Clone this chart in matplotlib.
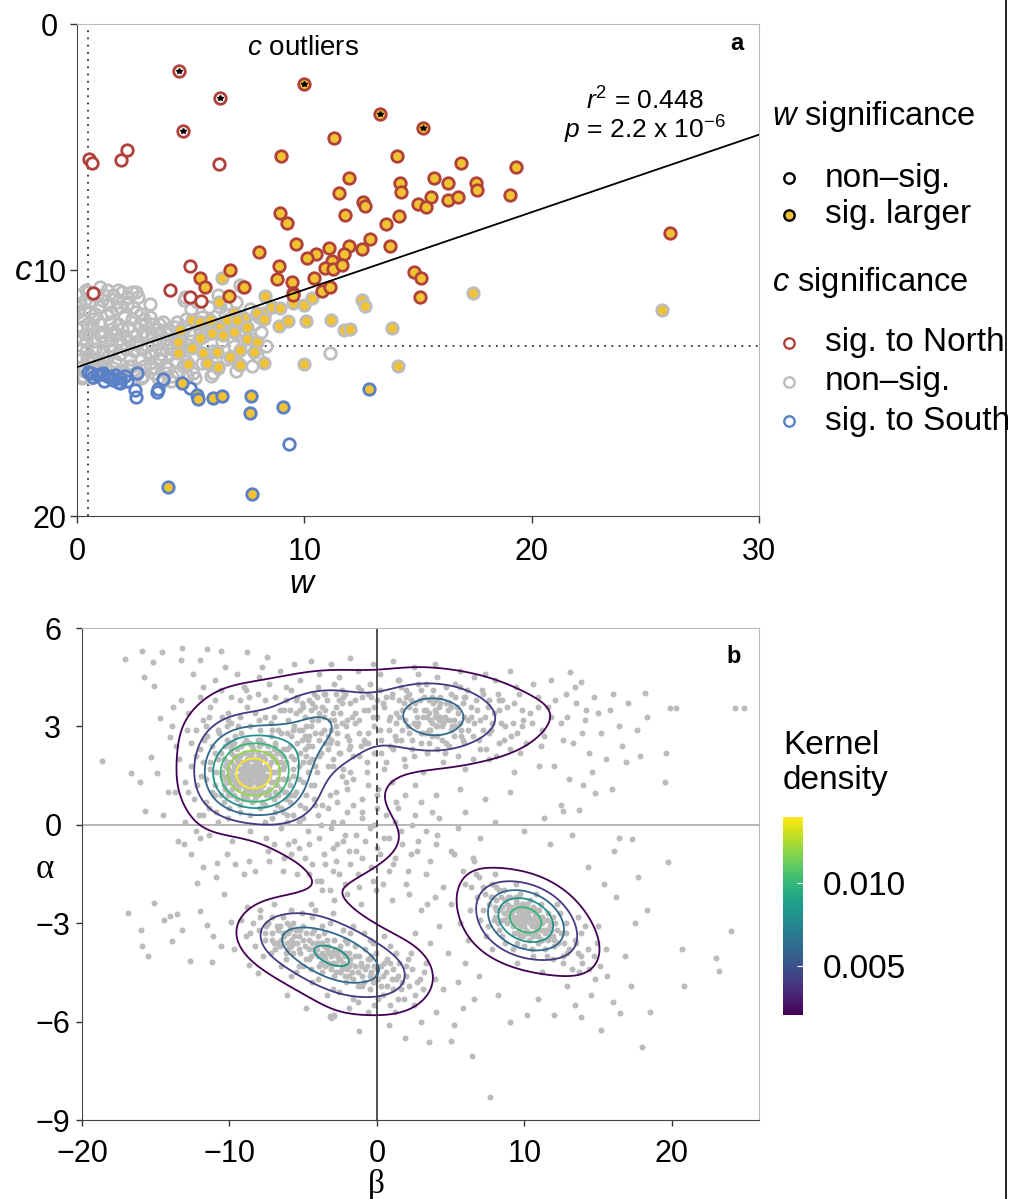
import numpy as np
import matplotlib.pyplot as plt
from matplotlib.lines import Line2D
from matplotlib.colors import Normalize
import matplotlib.cm as cm

plt.rcParams['font.family'] = ['Liberation Sans', 'DejaVu Sans']
plt.rcParams['mathtext.fontset'] = 'custom'
plt.rcParams['mathtext.rm'] = 'Liberation Sans'
plt.rcParams['mathtext.it'] = 'Liberation Sans:italic'

# ---------------- panel a data (w, c) ----------------
a_gray = [(0.1, 11.0), (0.3, 11.6), (0.2, 12.3), (0.4, 12.9), (0.1, 13.5), (0.3, 14.1), (0.6, 11.3),
          (0.7, 12.0), (0.5, 12.6), (0.8, 13.2), (0.6, 13.8), (0.9, 11.0), (0.2, 14.4), (0.9, 14.0),
          (1.1, 11.2), (1.3, 11.8), (1.2, 12.5), (1.4, 13.1), (1.1, 13.7), (1.6, 11.0), (1.7, 11.6),
          (1.8, 12.2), (1.5, 12.8), (1.9, 13.4), (1.6, 14.0), (1.3, 10.8), (2.0, 10.9), (2.2, 11.4),
          (2.4, 12.0), (2.1, 12.7), (2.5, 13.3), (2.3, 13.9), (2.7, 11.1), (2.8, 11.8), (2.9, 12.5),
          (2.6, 13.0), (2.8, 13.6), (2.4, 10.9), (3.0, 12.2), (3.2, 11.9), (3.5, 12.4), (3.3, 13.0),
          (3.6, 13.6), (3.4, 14.2), (3.8, 12.1), (3.9, 12.8), (4.1, 13.4), (4.0, 14.0), (4.3, 12.3),
          (4.4, 13.0), (4.7, 11.2), (5.0, 11.6), (5.3, 12.2), (5.8, 11.5), (6.2, 11.0), (6.5, 11.8),
          (7.0, 11.3), (7.3, 10.7), (7.6, 11.6), (4.6, 12.6), (5.2, 13.1), (5.6, 12.7), (6.0, 13.3),
          (6.4, 12.9), (6.9, 13.1), (7.4, 12.5), (7.8, 12.2), (8.1, 12.5), (4.8, 13.7), (5.5, 13.8),
          (6.2, 14.0), (7.1, 13.8), (7.9, 13.5), (4.2, 14.3), (3.8, 14.5), (4.76, 11.08), (7.18, 10.6),
          (11.15, 13.39), (0.5, 10.9), (1.0, 12.2), (2.0, 13.0), (2.9, 14.3), (3.6, 12.9), (1.4, 14.3),
          (0.15, 11.4), (0.25, 12.0), (0.35, 12.6), (0.15, 13.2), (0.45, 13.6), (0.25, 14.3), (0.55, 11.7),
          (0.65, 12.3), (0.75, 12.9), (0.55, 13.5), (0.85, 14.2), (0.95, 11.5), (1.05, 12.7), (1.15, 13.3),
          (1.25, 14.0), (1.35, 11.4), (1.45, 12.1), (1.55, 12.4), (1.65, 13.7), (1.75, 11.3), (1.85, 12.8),
          (1.95, 14.1), (2.05, 11.9), (2.15, 13.2), (2.25, 12.3), (2.35, 13.6), (2.45, 11.5), (2.55, 12.7),
          (2.65, 14.1), (2.75, 12.2), (2.85, 13.2), (2.95, 13.9), (3.05, 12.7), (3.15, 13.4), (3.25, 14.0),
          (3.35, 12.2), (3.45, 13.3), (3.55, 14.4), (3.65, 12.6), (3.75, 13.2), (3.85, 13.9), (3.95, 12.4),
          (4.05, 13.1), (4.15, 14.5), (4.25, 12.8), (4.35, 13.7), (4.45, 14.2), (4.55, 13.3), (4.65, 13.9),
          (4.75, 12.3), (4.85, 14.3), (4.95, 12.6), (5.1, 14.2), (5.3, 11.3), (5.5, 11.9), (5.7, 13.4),
          (5.9, 14.3), (6.1, 12.2), (6.3, 11.5), (6.6, 13.6), (6.8, 12.3), (7.0, 14.1), (7.2, 11.9),
          (7.5, 13.1), (7.7, 13.9), (8.0, 11.9), (8.3, 13.1), (1.0, 10.7), (1.8, 10.8), (2.6, 10.9),
          (3.2, 11.4), (0.4, 10.8), (0.05, 11.7), (0.2, 12.8), (0.1, 14.0), (0.35, 11.2), (0.45, 12.2),
          (0.4, 13.3), (0.6, 14.4), (0.7, 11.0), (0.8, 11.8), (0.75, 13.6), (0.95, 12.5), (1.0, 13.9),
          (1.2, 11.0), (1.25, 12.9), (1.35, 13.5), (1.5, 11.7), (1.55, 13.3), (1.7, 12.6), (1.8, 14.2),
          (1.9, 11.5), (2.0, 12.4), (2.1, 14.2), (2.25, 11.1), (2.3, 12.9), (2.4, 13.9), (2.6, 11.7),
          (2.7, 12.9), (2.8, 14.4), (2.95, 12.0), (3.1, 13.1), (3.2, 13.8), (3.3, 12.6), (3.45, 14.0),
          (3.6, 12.2), (3.7, 13.4), (3.9, 14.2), (4.0, 12.6), (4.2, 13.2), (4.4, 12.1), (4.6, 13.1),
          (4.8, 12.0), (5.0, 12.9), (5.2, 14.4), (5.4, 12.5), (5.8, 12.1), (6.0, 14.2), (6.5, 12.5),
          (7.2, 12.6), (7.7, 12.8)]

a_gray_larger = [(6.40, 10.34), (6.26, 11.29), (8.28, 11.06), (8.28, 11.73), (8.58, 11.49), (8.94, 11.56),
                 (9.50, 11.36), (10.0, 11.42), (10.34, 11.15), (12.54, 11.22), (12.65, 11.46), (6.89, 11.76),
                 (7.33, 11.96), (7.92, 11.76), (8.21, 12.0), (8.87, 12.28), (9.26, 12.07), (10.09, 12.07),
                 (11.19, 12.03), (11.73, 12.44), (13.86, 12.34), (14.13, 13.9), (10.0, 13.82), (4.54, 12.44),
                 (5.05, 12.03), (5.39, 12.10), (5.86, 12.03), (6.30, 12.30), (6.59, 12.03), (7.04, 12.03),
                 (7.48, 12.30), (5.42, 12.78), (5.93, 12.57), (6.42, 12.64), (6.89, 12.51), (7.48, 12.82),
                 (7.92, 12.91), (5.05, 13.18), (4.43, 12.91), (4.46, 13.39), (5.56, 13.39), (6.15, 13.32),
                 (6.74, 13.52), (7.18, 13.25), (7.77, 13.35), (4.90, 13.82), (5.71, 13.79), (6.22, 13.96),
                 (7.18, 13.86), (8.21, 13.79), (17.41, 10.92), (25.73, 11.63), (12.0, 12.4)]

a_south = [(2.63, 14.2), (3.80, 14.44), (3.58, 14.85), (3.51, 14.95), (2.56, 14.88), (2.60, 15.15),
           (4.98, 14.81), (9.31, 17.09), (0.50, 14.13), (0.87, 14.27), (1.16, 14.2), (1.45, 14.34),
           (1.67, 14.27), (1.89, 14.40), (2.11, 14.31), (1.82, 14.54), (1.60, 14.47), (1.31, 14.31),
           (1.01, 14.23), (0.72, 14.34), (1.2, 14.5), (1.9, 14.6), (2.2, 14.5), (0.6, 14.2)]

a_south_larger = [(4.61, 14.58), (5.27, 15.08), (5.32, 15.26), (6.0, 15.22), (6.37, 15.11), (7.65, 15.11),
                  (7.62, 15.83), (9.06, 15.56), (12.85, 14.85), (4.02, 18.83), (7.69, 19.12)]

a_north = [(0.54, 5.5), (0.65, 5.64), (1.92, 5.53), (2.19, 5.12), (6.26, 5.70), (4.98, 9.82),
           (4.07, 10.81), (0.72, 10.92), (4.98, 11.08), (5.46, 11.26), (4.49, 1.90), (6.27, 3.02),
           (4.66, 4.35)]

a_north_larger = [(11.29, 4.65), (8.99, 5.37), (14.08, 5.37), (11.95, 6.27), (11.51, 6.86), (14.2, 6.45),
                  (14.25, 6.82), (12.58, 7.22), (12.69, 7.40), (11.81, 7.76), (14.15, 7.80), (8.91, 7.70),
                  (9.24, 8.08), (13.61, 8.14), (9.63, 8.94), (7.99, 9.26), (11.07, 9.09), (10.52, 9.36),
                  (10.12, 9.52), (11.95, 9.02), (11.73, 9.36), (12.54, 9.16), (12.88, 8.75), (13.76, 9.02),
                  (11.22, 9.63), (10.93, 9.91), (11.26, 9.97), (11.66, 9.80), (8.87, 9.82), (6.71, 10.0),
                  (5.42, 10.31), (5.64, 10.70), (7.33, 10.68), (8.80, 10.38), (9.46, 10.50), (10.41, 10.31),
                  (10.78, 10.84), (11.15, 10.68), (9.48, 10.95), (6.67, 11.06), (9.5, 11.0), (16.87, 5.64),
                  (19.33, 5.80), (15.70, 6.25), (16.33, 6.45), (17.53, 6.45), (17.58, 6.75), (15.55, 7.02),
                  (15.0, 7.32), (15.37, 7.43), (16.33, 7.15), (16.75, 7.05), (19.03, 6.95), (26.08, 8.48),
                  (14.82, 10.07), (15.14, 10.31), (15.08, 11.1), (9.97, 2.45), (13.35, 3.66), (15.23, 4.21)]

a_outliers = [(4.49, 1.90), (6.27, 3.02), (4.66, 4.35), (9.97, 2.45), (13.35, 3.66), (15.23, 4.21)]

fit_intercept = 13.95
fit_slope = -0.315
w_cut = 0.5
c_cut = 13.1

# ---------------- panel b data (beta, alpha) ----------------
b_left_core = [
    (-10.8, 2.9), (-9.9, 3.1), (-9.2, 2.8), (-8.6, 3.0), (-7.9, 2.9), (-7.2, 3.1), (-6.5, 2.8), (-11.5, 2.7),
    (-10.2, 2.6), (-8.1, 2.6), (-6.9, 2.5), (-5.8, 2.7), (-12.0, 2.3), (-11.2, 2.4), (-10.6, 2.2), (-10.0, 2.5),
    (-9.5, 2.3), (-9.0, 2.5), (-8.5, 2.2), (-8.0, 2.4), (-7.5, 2.2), (-7.0, 2.3), (-6.4, 2.1), (-5.9, 2.4),
    (-5.2, 2.2), (-9.7, 2.1), (-8.8, 2.0), (-7.8, 2.0), (-12.6, 1.8), (-11.8, 1.9), (-11.3, 1.7), (-10.8, 2.0),
    (-10.3, 1.8), (-9.9, 1.6), (-9.4, 1.9), (-9.1, 1.7), (-8.7, 1.8), (-8.3, 1.6), (-8.0, 1.9), (-7.6, 1.7),
    (-7.2, 1.9), (-6.8, 1.6), (-6.3, 1.8), (-5.7, 1.7), (-5.0, 1.9), (-10.1, 1.7), (-8.9, 1.6), (-7.9, 1.6),
    (-13.0, 1.3), (-12.2, 1.2), (-11.6, 1.4), (-11.0, 1.2), (-10.5, 1.5), (-10.0, 1.3), (-9.6, 1.4), (-9.2, 1.2),
    (-8.8, 1.5), (-8.5, 1.3), (-8.1, 1.4), (-7.7, 1.2), (-7.3, 1.5), (-6.9, 1.3), (-6.4, 1.4), (-5.9, 1.2),
    (-5.3, 1.4), (-9.4, 1.5), (-8.6, 1.1), (-7.9, 1.1), (-10.3, 1.1), (-8.3, 1.5), (-12.4, 0.8), (-11.6, 0.7),
    (-11.0, 0.9), (-10.4, 0.7), (-9.8, 0.9), (-9.3, 0.6), (-8.8, 0.8), (-8.3, 0.9), (-7.8, 0.7), (-7.3, 0.9),
    (-6.8, 0.6), (-6.2, 0.8), (-5.6, 0.9), (-9.0, 1.0), (-7.5, 1.0), (-11.8, 0.3), (-10.9, 0.4), (-10.1, 0.2),
    (-9.3, 0.4), (-8.6, 0.3), (-7.9, 0.5), (-7.1, 0.2), (-6.4, 0.4), (-5.7, 0.3), (-4.9, 0.5), (-9.1, 1.4),
    (-8.7, 1.6), (-8.2, 1.7), (-8.9, 1.3), (-8.4, 1.8), (-7.8, 1.5), (-9.3, 1.7), (-8.0, 1.2), (-8.6, 1.4),
    (-9.0, 1.9), (-7.6, 1.4), (-8.3, 1.1), (-9.5, 1.2), (-8.8, 1.7), (-8.1, 1.5), (-7.4, 1.7), (-9.8, 1.5),
    (-8.5, 2.0), (-8.7, 1.2), (-7.9, 1.8),
    (-12.3, 2.1), (-11.9, 1.5), (-11.7, 2.6), (-11.4, 0.5), (-11.2, 1.0), (-11.0, 2.2), (-10.9, 1.6),
    (-10.7, 2.8), (-10.6, 0.9), (-10.4, 2.0), (-10.3, 1.4), (-10.2, 3.0), (-10.0, 0.5), (-9.9, 2.3),
    (-9.8, 1.1), (-9.7, 1.8), (-9.6, 2.7), (-9.5, 0.8), (-9.4, 2.1), (-9.3, 1.3), (-9.2, 2.4), (-9.1, 0.9),
    (-9.0, 1.6), (-8.9, 2.2), (-8.8, 1.0), (-8.7, 2.5), (-8.6, 1.7), (-8.5, 0.7), (-8.4, 2.3), (-8.3, 1.3),
    (-8.2, 2.0), (-8.1, 0.9), (-8.0, 1.6), (-7.9, 2.6), (-7.8, 1.3), (-7.7, 2.1), (-7.6, 0.6), (-7.5, 1.8),
    (-7.4, 2.4), (-7.3, 1.1), (-7.2, 2.7), (-7.1, 1.6), (-7.0, 0.8), (-6.9, 2.0), (-6.8, 1.2), (-6.7, 2.9),
    (-6.6, 1.7), (-6.5, 0.5), (-6.4, 2.3), (-6.3, 1.0), (-6.2, 1.9), (-6.1, 2.8), (-6.0, 1.4), (-5.9, 0.7),
    (-5.8, 2.1), (-5.7, 1.5), (-5.6, 3.0), (-5.5, 1.0), (-5.4, 2.5), (-5.3, 1.8), (-5.2, 0.6), (-5.1, 2.9),
    (-5.0, 1.3), (-4.9, 2.3), (-4.8, 0.9), (-4.7, 1.6), (-4.6, 2.7), (-4.5, 1.2), (-12.8, 1.0), (-12.6, 2.5),
    (-12.1, 0.3), (-11.6, 3.0), (-11.3, 1.9), (-10.8, 0.1), (-10.1, 3.2), (-9.3, 3.3), (-8.0, 3.2),
    (-7.0, 3.3), (-6.1, 0.1), (-5.3, 0.1), (-4.4, 2.0), (-4.2, 0.6), (-13.4, 2.0), (-13.7, 1.0), (-12.9, 2.9),
    (-10.4, 1.2), (-10.2, 1.9), (-10.0, 1.0), (-9.9, 2.2), (-9.8, 1.4), (-9.7, 0.9), (-9.6, 1.7), (-9.5, 2.0),
    (-9.4, 1.1), (-9.3, 1.5), (-9.2, 1.9), (-9.1, 1.2), (-9.0, 2.2), (-8.9, 1.5), (-8.8, 0.9), (-8.8, 1.9),
    (-8.7, 1.4), (-8.6, 2.1), (-8.5, 1.0), (-8.5, 1.6), (-8.4, 1.3), (-8.3, 2.0), (-8.2, 1.5), (-8.2, 0.9),
    (-8.1, 1.8), (-8.0, 1.4), (-7.9, 2.1), (-7.9, 1.0), (-7.8, 1.7), (-7.7, 1.3), (-7.6, 2.0), (-7.5, 1.5),
    (-7.4, 1.0), (-7.3, 1.8), (-7.2, 1.3), (-7.1, 2.1), (-7.0, 1.6), (-6.9, 1.0), (-6.8, 1.9), (-6.7, 1.4),
    (-6.6, 2.2), (-6.5, 1.1), (-9.6, 1.25), (-9.0, 1.75), (-8.6, 1.25), (-8.4, 1.65), (-8.0, 1.1),
    (-7.7, 1.55), (-9.2, 1.55), (-8.9, 1.1), (-8.3, 1.85), (-7.9, 1.35), (-8.7, 1.75), (-9.4, 1.35),
    (-8.1, 1.25), (-7.5, 1.75), (-8.6, 1.5), (-8.9, 1.85), (-7.8, 1.0), (-9.8, 1.65),
    (-10.5, 1.6), (-10.3, 2.4), (-10.1, 0.9), (-9.9, 1.9), (-9.7, 2.5), (-9.5, 1.4), (-9.3, 2.1), (-9.1, 0.8),
    (-8.9, 2.6), (-8.7, 1.0), (-8.5, 2.4), (-8.3, 0.8), (-8.1, 2.2), (-7.9, 1.4), (-7.7, 2.5), (-7.5, 0.9),
    (-7.3, 2.2), (-7.1, 1.3), (-6.9, 2.4), (-6.7, 0.9), (-6.5, 1.9), (-6.3, 1.4), (-6.1, 2.3), (-10.4, 2.0),
    (-10.0, 1.3), (-6.4, 1.7), (-6.8, 2.2), (-10.2, 1.5), (-6.2, 1.0), (-9.9, 2.4), (-11.8, 3.2), (-11.0, 3.8),
    (-10.5, 3.3), (-9.9, 3.9), (-9.4, 3.0), (-8.7, 3.9), (-8.3, 3.4), (-7.6, 3.8), (-7.1, 2.9), (-6.6, 3.5),
    (-6.0, 3.2), (-5.5, 3.8), (-12.3, 2.9), (-11.4, 3.3), (-8.9, 4.1)]

b_top = [
    (-11.0, 4.4), (-9.5, 4.6), (-8.0, 4.5), (-6.6, 4.7), (-5.2, 4.4), (-3.9, 4.6), (-2.6, 4.5), (-1.3, 4.7),
    (0.2, 4.6), (1.5, 4.4), (2.8, 4.6), (4.1, 4.5), (5.3, 4.3), (6.6, 4.5), (8.0, 4.4), (9.4, 4.2), (-7.3, 4.3),
    (-0.5, 4.3), (3.3, 4.3), (-12.0, 3.9), (-10.6, 4.1), (-9.3, 3.8), (-8.1, 4.0), (-6.9, 3.9), (-5.8, 4.1),
    (-4.6, 3.8), (-3.5, 4.0), (-2.3, 3.9), (-1.1, 4.1), (0.0, 3.8), (1.0, 4.0), (2.0, 3.9), (3.0, 4.1), (4.0, 3.8),
    (5.0, 4.0), (6.0, 3.9), (7.1, 4.1), (8.3, 3.8), (9.6, 4.0), (10.9, 3.9), (12.1, 3.8), (-4.0, 4.2), (1.6, 4.2),
    (5.6, 4.2), (-12.8, 3.4), (-11.3, 3.6), (-10.1, 3.4), (-8.8, 3.6), (-7.6, 3.3), (-6.3, 3.5), (-5.1, 3.7),
    (-3.9, 3.4), (-2.8, 3.6), (-1.7, 3.3), (-0.6, 3.5), (0.4, 3.7), (1.3, 3.4), (2.2, 3.6), (3.1, 3.3), (3.9, 3.5),
    (4.7, 3.7), (5.5, 3.4), (6.4, 3.6), (7.3, 3.3), (8.3, 3.5), (9.3, 3.7), (10.4, 3.4), (11.6, 3.6), (12.9, 3.3),
    (14.2, 3.5), (2.6, 3.5), (4.3, 3.3), (5.9, 3.3), (1.8, 3.7), (-4.8, 3.0), (-3.6, 2.9), (-2.4, 3.1), (-1.2, 2.8),
    (-0.2, 3.0), (0.8, 3.2), (1.7, 2.9), (2.5, 3.1), (3.3, 2.8), (4.1, 3.0), (4.9, 3.2), (5.7, 2.9), (6.6, 3.1),
    (7.6, 2.8), (8.7, 3.0), (9.9, 3.2), (11.2, 2.9), (12.5, 3.1), (13.9, 2.8), (3.6, 3.2), (2.1, 3.0), (5.3, 3.0),
    (-2.0, 3.2), (-4.4, 2.4), (-3.1, 2.6), (-1.9, 2.3), (-0.8, 2.5), (0.3, 2.2), (1.3, 2.6), (2.4, 2.3), (3.5, 2.5),
    (4.6, 2.2), (5.8, 2.6), (7.0, 2.3), (8.3, 2.5), (9.7, 2.2), (11.1, 2.4), (12.6, 2.6), (-2.5, 2.2), (0.9, 2.4),
    (-4.2, 1.8), (-3.0, 2.0), (-1.8, 1.6), (-0.7, 1.9), (0.5, 1.7), (1.8, 2.0), (3.1, 1.6), (4.5, 1.9), (6.0, 1.7),
    (7.6, 2.0), (9.3, 1.6), (11.0, 1.8), (-2.4, 1.5), (-1.2, 2.1), (-4.3, 1.2), (-3.2, 0.9), (-2.1, 1.3),
    (-1.0, 0.8), (0.1, 1.1), (1.3, 0.7), (2.6, 1.2), (4.0, 0.9), (5.6, 1.1), (7.3, 0.8), (9.0, 1.0), (-3.7, 0.6),
    (-1.6, 1.4), (-2.7, 0.7), (-4.0, 0.3), (-3.0, 0.1), (-2.0, 0.4), (-1.0, 0.2), (0.0, 0.5), (1.2, 0.1),
    (2.6, 0.3), (4.2, 0.2), (6.0, 0.4), (8.0, 0.1), (1.5, 3.3), (3.5, 3.8), (4.2, 3.6),
    (-4.7, 2.6), (-4.5, 3.5), (-4.3, 4.0), (-4.1, 1.6), (-3.8, 2.2), (-3.6, 3.3), (-3.4, 3.8), (-3.3, 1.8),
    (-3.1, 2.9), (-2.9, 4.3), (-2.7, 2.5), (-2.5, 3.4), (-2.3, 1.7), (-2.2, 4.0), (-2.0, 2.7), (-1.8, 3.7),
    (-1.6, 2.1), (-1.5, 3.1), (-1.3, 4.2), (-1.1, 2.4), (-0.9, 3.5), (-0.7, 1.6), (-0.6, 2.8), (-0.4, 3.9),
    (-0.2, 2.2), (0.0, 3.3), (0.2, 4.1), (0.3, 2.6), (0.5, 3.6), (0.6, 1.9), (0.8, 2.9), (1.0, 3.9), (1.1, 2.3),
    (1.3, 3.1), (1.4, 4.4), (1.6, 2.6), (1.7, 3.5), (1.9, 1.8), (2.0, 4.1), (2.2, 2.8), (2.3, 3.8), (2.5, 2.1),
    (2.7, 3.3), (2.8, 4.3), (3.0, 2.5), (3.2, 3.9), (3.4, 2.2), (3.5, 3.4), (3.7, 2.7), (3.8, 4.1), (4.0, 3.0),
    (4.1, 2.3), (4.3, 3.7), (4.4, 2.6), (4.6, 3.2), (4.7, 4.2), (4.9, 2.4), (5.0, 3.6), (5.2, 2.7), (5.3, 3.9),
    (5.5, 2.1), (5.6, 3.1), (5.8, 3.7), (5.9, 2.5), (6.1, 4.1), (6.2, 2.9), (6.4, 3.3), (6.5, 2.0), (6.7, 3.8),
    (6.9, 2.6), (7.0, 3.2), (7.2, 4.0), (7.4, 2.3), (7.5, 3.6), (7.7, 2.9), (7.9, 3.4), (8.1, 2.1), (8.2, 4.0),
    (8.4, 3.1), (8.6, 2.6), (8.8, 3.6), (9.0, 2.3), (9.2, 3.1), (9.5, 2.8), (9.8, 3.5), (10.1, 2.5), (10.5, 3.1),
    (10.9, 3.6), (11.3, 2.7), (11.8, 3.3), (2.6, 3.7),
    (-2.8, 3.0), (-2.4, 3.7), (-1.9, 2.6), (-1.5, 3.4), (-1.0, 3.9), (-0.6, 2.5), (-0.2, 3.6), (0.2, 2.9),
    (0.6, 3.9), (0.9, 3.3), (1.2, 2.7), (1.5, 3.8), (1.9, 3.2), (2.2, 4.0), (2.4, 2.6), (2.7, 3.0), (2.9, 3.8),
    (3.1, 2.8), (3.3, 3.5), (3.5, 2.9), (3.7, 3.9), (3.9, 3.3), (4.1, 2.7), (4.3, 3.9), (4.5, 3.1), (4.7, 2.5),
    (4.9, 3.7), (5.1, 3.0), (5.4, 3.6), (5.7, 2.7), (5.9, 3.9), (6.2, 3.2), (6.5, 2.7), (6.8, 3.5), (7.2, 2.9),
    (7.6, 3.8), (-5.9, 3.5), (-5.6, 2.0), (-5.4, 3.9), (-5.1, 2.6), (-4.9, 3.3), (-4.6, 1.9), (-4.4, 3.7),
    (-4.2, 2.8), (-3.9, 2.1), (-3.7, 3.6), (-3.5, 2.5), (-3.2, 3.2), (-3.0, 1.8), (-2.8, 4.0), (-2.6, 2.2),
    (-5.7, 2.9), (-5.2, 3.5), (-4.0, 3.2), (-3.3, 2.7), (-6.2, 3.8),
    (-4.8, 2.1), (-4.5, 3.0), (-4.2, 3.6), (-3.9, 2.6), (-3.6, 4.0), (-3.3, 2.3), (-3.0, 3.4), (-2.7, 2.8),
    (-2.4, 4.1), (-2.1, 3.0), (-1.8, 2.4), (-1.5, 3.8), (-1.2, 3.2), (-0.9, 2.6), (-0.6, 4.0), (-0.3, 3.3),
    (7.8, 3.1), (8.5, 3.8), (9.1, 2.7), (9.8, 3.0),
    (2.8, 3.1), (3.2, 3.5), (3.6, 2.9), (4.0, 3.4), (4.4, 3.0), (4.8, 3.5), (5.2, 3.2), (3.4, 3.3), (4.2, 3.2),
    (3.8, 3.7), (4.6, 3.3), (3.0, 2.8), (5.0, 2.9), (3.7, 3.1), (-5.3, 2.9), (-5.0, 3.6), (-4.7, 2.4),
    (-4.4, 3.2), (-4.1, 3.9), (-3.8, 2.8), (-3.5, 3.5), (-3.2, 2.5), (-2.9, 3.2), (-2.6, 3.8), (-5.5, 3.4),
    (-4.9, 2.7)]

b_middle = [
    (-11.4, -0.3), (-9.8, -0.5), (-8.6, -0.2), (-7.5, -0.4), (-6.5, -0.1), (-5.6, -0.5), (-4.7, -0.2),
    (-3.9, -0.4), (-3.1, -0.1), (-2.3, -0.5), (-1.4, -0.3), (-0.5, -0.1), (0.5, -0.4), (1.6, -0.2), (2.8, -0.5),
    (4.1, -0.3), (5.5, -0.1), (7.0, -0.4), (-6.0, -0.6), (-2.7, -0.6), (-10.2, -0.9), (-8.7, -1.1), (-7.4, -0.8),
    (-6.3, -1.0), (-5.3, -0.7), (-4.4, -1.2), (-3.6, -0.9), (-2.8, -1.1), (-1.9, -0.8), (-1.0, -1.0), (0.0, -0.7),
    (1.1, -1.2), (2.3, -0.9), (3.6, -1.1), (5.0, -0.8), (6.5, -1.0), (-4.9, -1.0), (-9.0, -1.5),
    (-6.4, -1.4), (-4.6, -1.5), (-3.8, -1.7), (-3.0, -1.4), (-2.2, -1.8), (-1.3, -1.5), (-0.3, -1.7),
    (0.8, -1.4), (2.0, -1.8), (3.3, -1.5), (4.5, -1.9),
    (-4.5, -2.4), (-3.7, -2.0), (-2.9, -2.3), (-2.0, -2.1), (-1.1, -2.4), (-0.1, -2.0), (1.0, -2.3),
    (2.2, -2.1), (3.4, -2.4), (-13.5, -0.5), (-12.6, -0.9), (-11.8, -1.3), (-10.9, -1.6), (-13.0, 0.1),
    (-12.3, -0.2), (3.0, -2.6), (4.2, -3.1), (5.0, -2.4), (3.6, -3.6), (4.8, -3.9), (5.6, -3.0), (2.6, -3.3),
    (3.9, -2.2),
    (-7.6, 0.1), (-7.0, -0.6), (-6.1, 0.3), (-5.8, -0.9), (-5.4, -1.5), (-5.0, 0.2), (-4.6, -0.6),
    (-4.3, 0.8), (-4.1, -1.7), (-3.8, 0.0), (-3.5, -1.2), (-3.3, 0.5), (-3.0, -0.7), (-2.8, 1.0), (-2.6, -1.5),
    (-2.4, 0.1), (-2.2, -0.3), (-2.0, 1.1), (-1.8, -1.2), (-1.6, 0.6), (-1.4, -0.8), (-1.2, -1.9), (-1.0, 0.4),
    (-0.8, -0.5), (-0.6, 1.2), (-0.4, -1.3), (-0.2, 0.0), (0.0, 0.9), (0.2, -0.9), (0.4, -1.8), (0.6, 0.3),
    (0.8, -0.4), (1.0, 1.3), (1.2, -1.0), (1.4, 0.5), (1.7, -0.6), (1.9, 0.9), (2.1, -1.4), (2.4, 0.0),
    (2.7, -0.8), (3.0, 0.7), (3.3, -0.2), (3.7, 0.4), (4.0, -0.6), (-3.2, -2.0), (-5.9, 0.9),
    (-6.9, 0.4), (-7.3, -1.1)]

b_lower_left = [
    (-7.0, -2.4), (-5.8, -2.6), (-4.4, -2.8), (-3.2, -3.0), (-1.8, -3.3), (-0.5, -3.5), (0.9, -3.7), (2.3, -3.9),
    (-8.8, -2.5), (-7.9, -2.6), (-7.1, -2.8), (-6.4, -2.8), (-5.7, -3.0), (-5.0, -3.1), (-4.3, -3.2), (-3.6, -3.3),
    (-2.9, -3.5), (-2.2, -3.5), (-1.5, -3.7), (-0.8, -3.8), (-0.1, -3.9), (0.7, -4.1), (1.5, -4.2), (2.4, -4.4),
    (3.2, -4.5), (-8.4, -3.0), (-7.5, -3.1), (-6.7, -3.2), (-6.0, -3.3), (-5.3, -3.4), (-4.6, -3.5), (-3.9, -3.6),
    (-3.3, -3.7), (-2.6, -3.8), (-1.9, -3.9), (-1.2, -4.0), (-0.5, -4.1), (0.3, -4.3), (1.1, -4.4), (2.0, -4.6),
    (2.9, -4.7), (-8.0, -3.2), (-7.1, -3.3), (-6.3, -3.4), (-5.6, -3.6), (-4.9, -3.7), (-4.3, -3.8), (-3.7, -3.9),
    (-3.1, -4.0), (-2.5, -4.1), (-1.8, -4.2), (-1.1, -4.3), (-0.4, -4.5), (0.4, -4.6), (1.3, -4.7), (2.2, -4.9),
    (3.1, -5.0), (-3.4, -3.8), (-2.8, -4.2), (-4.0, -4.0), (-2.2, -4.0), (-7.6, -3.5), (-6.8, -3.6), (-6.0, -3.8),
    (-5.2, -3.9), (-4.5, -4.0), (-3.8, -4.2), (-3.1, -4.3), (-2.4, -4.4), (-1.7, -4.5), (-1.0, -4.6), (-0.2, -4.8),
    (0.7, -4.9), (1.6, -5.0), (2.6, -5.2), (-3.5, -4.1), (-2.0, -4.3), (-7.2, -3.9), (-6.2, -4.1), (-5.3, -4.3),
    (-4.5, -4.4), (-3.7, -4.5), (-2.9, -4.6), (-2.1, -4.8), (-1.3, -4.9), (-0.5, -5.0), (0.4, -5.2), (1.4, -5.3),
    (2.5, -5.5), (-5.8, -4.6), (-4.4, -4.8), (-3.0, -5.0), (-1.6, -5.3), (-0.2, -5.5), (1.2, -5.7), (-3.1, -5.9),
    (-2.9, -5.8), (0.8, -6.1), (-1.2, -6.3), (-3.6, -3.7), (-3.0, -3.9), (-2.3, -4.2), (-4.1, -3.6), (-1.5, -4.3),
    (-2.7, -3.9), (-3.3, -4.2), (-1.9, -4.6), (-4.6, -3.8), (-0.8, -4.4), (-3.9, -4.3), (-2.5, -4.5),
    (-9.2, -2.9), (-8.9, -3.4), (-8.6, -3.3), (-8.3, -3.7), (-7.9, -2.8), (-7.7, -4.0), (-7.4, -3.0),
    (-7.0, -3.6), (-6.6, -3.1), (-6.5, -4.3), (-6.1, -3.0), (-5.9, -3.2), (-5.5, -4.5), (-5.1, -2.7),
    (-4.8, -4.1), (-4.2, -2.6), (-4.0, -4.7), (-3.7, -3.1), (-3.4, -5.2), (-3.0, -2.7), (-2.6, -5.1),
    (-2.3, -3.2), (-1.9, -5.6), (-1.6, -3.1), (-1.3, -5.4), (-0.9, -3.3), (-0.6, -5.7), (-0.3, -3.6),
    (0.1, -5.3), (0.5, -3.4), (0.9, -5.5), (1.3, -3.9), (1.8, -5.3), (2.1, -4.1), (2.7, -4.8), (3.3, -4.2),
    (-2.0, -3.6), (-4.4, -3.3), (-1.0, -4.9), (-5.0, -4.3),
    (-5.8, -3.5), (-5.5, -3.2), (-5.3, -3.8), (-5.0, -3.5), (-4.8, -3.3), (-4.6, -4.1), (-4.4, -3.6),
    (-4.2, -3.9), (-4.0, -3.4), (-3.8, -4.0), (-3.7, -3.6), (-3.5, -4.3), (-3.4, -3.5), (-3.2, -3.9),
    (-3.1, -4.4), (-2.9, -3.8), (-2.8, -4.5), (-2.7, -4.0), (-2.5, -3.7), (-2.4, -4.3), (-2.2, -4.6),
    (-2.1, -3.9), (-2.0, -4.4), (-1.8, -4.1), (-1.6, -4.7), (-1.5, -4.0), (-1.3, -4.5), (-1.1, -4.2),
    (-0.9, -4.8), (-0.7, -4.3), (-0.5, -4.6), (-0.2, -4.3), (0.1, -4.7), (-3.6, -4.0), (-3.0, -4.2),
    (-2.6, -4.1), (-4.1, -3.8), (-1.9, -4.3), (-3.3, -3.9), (-2.3, -3.9),
    (-7.4, -3.0), (-7.1, -3.5), (-6.8, -3.1), (-6.6, -3.7), (-6.4, -3.3), (-6.1, -3.6), (-5.9, -3.1),
    (-5.7, -3.9), (-5.4, -3.6), (-5.2, -3.2), (-6.9, -3.8), (-7.6, -3.3), (-6.2, -3.9), (-5.6, -3.4),
    (-0.6, -4.1), (-0.3, -4.8), (0.0, -4.4), (0.3, -4.9), (0.6, -4.5), (0.9, -4.2), (1.1, -5.0), (1.4, -4.6),
    (1.7, -4.8), (2.0, -4.3), (-0.1, -4.6), (0.5, -4.2), (-0.4, -4.0), (1.0, -4.7), (-6.5, -3.5), (-5.8, -3.7)]

b_right = [
    (5.2, -0.9), (6.6, -1.1), (8.0, -1.5), (9.4, -1.8), (10.8, -2.1), (12.2, -2.4), (13.6, -2.8), (15.0, -3.1),
    (5.8, -1.4), (6.9, -1.6), (7.8, -1.8), (8.6, -2.0), (9.4, -2.2), (10.2, -2.4), (11.0, -2.6), (11.9, -2.8),
    (12.8, -3.0), (13.8, -3.3), (14.9, -3.6), (6.4, -1.9), (7.3, -2.1), (8.1, -2.3), (8.8, -2.4), (9.5, -2.6),
    (10.2, -2.7), (10.9, -2.9), (11.7, -3.1), (12.5, -3.3), (13.4, -3.5), (14.3, -3.8), (6.8, -2.2), (7.6, -2.4),
    (8.3, -2.6), (9.0, -2.7), (9.7, -2.9), (10.4, -3.0), (11.1, -3.2), (11.9, -3.4), (12.7, -3.6), (13.6, -3.9),
    (9.9, -2.7), (10.6, -2.9), (9.3, -2.8), (7.2, -2.6), (8.0, -2.8), (8.8, -3.0), (9.6, -3.2), (10.4, -3.3),
    (11.2, -3.5), (12.0, -3.7), (12.9, -3.9), (13.9, -4.2), (10.0, -3.1), (7.5, -3.1), (8.5, -3.4), (9.5, -3.6),
    (10.5, -3.8), (11.5, -4.0), (12.6, -4.2), (13.7, -4.5), (14.8, -4.7), (7.8, -3.8), (9.5, -4.2), (11.2, -4.5),
    (12.9, -4.9), (14.5, -5.2), (16.0, -5.4), (6.2, -3.5), (9.8, -2.5), (10.3, -2.8), (9.4, -3.0), (10.8, -3.1),
    (8.9, -2.6), (11.3, -2.9), (10.1, -3.2), (9.6, -2.6), (9.9, -2.9), (10.5, -2.6), (9.1, -2.5), (10.7, -3.3),
    (9.2, -3.1), (11.0, -2.8), (8.6, -2.7), (10.0, -2.4), (11.5, -3.2), (8.4, -2.2), (10.3, -3.5), (9.7, -3.4),
    (11.8, -3.0), (8.2, -3.0), (10.9, -3.6),
    (6.0, -1.8), (6.3, -2.6), (6.7, -1.5), (7.0, -2.9), (7.2, -1.9), (7.4, -3.4), (7.7, -2.2), (7.9, -2.9),
    (8.1, -1.9), (8.3, -3.2), (8.5, -2.5), (8.7, -3.6), (8.9, -2.2), (9.1, -2.9), (9.2, -3.8), (9.4, -2.4),
    (9.5, -3.3), (9.7, -2.1), (9.8, -3.0), (10.0, -3.7), (10.1, -2.6), (10.2, -3.3), (10.4, -2.3), (10.5, -3.1),
    (10.6, -4.0), (10.8, -2.6), (10.9, -3.4), (11.1, -2.4), (11.2, -3.0), (11.4, -3.8), (11.6, -2.7),
    (11.7, -3.4), (11.9, -4.1), (12.1, -3.0), (12.3, -3.6), (12.4, -2.7), (12.6, -4.0), (12.8, -3.3),
    (13.0, -3.8), (13.2, -4.4), (13.5, -3.6), (13.8, -4.0), (14.1, -3.1), (14.4, -4.4), (14.7, -4.0),
    (15.1, -4.3), (15.5, -3.8), (8.0, -2.5), (9.0, -2.5), (9.6, -2.8), (10.3, -2.9), (10.7, -2.8), (9.3, -3.3),
    (10.9, -3.0), (8.6, -2.9), (11.4, -3.3), (9.9, -3.4), (10.6, -2.5), (9.5, -2.4), (10.0, -2.95),
    (7.8, -2.2), (8.1, -2.6), (8.3, -2.0), (8.5, -2.9), (8.7, -2.3), (8.9, -2.8), (9.0, -2.2), (9.2, -2.6),
    (9.3, -3.0), (9.4, -2.3), (9.6, -2.7), (9.7, -3.1), (9.8, -2.4), (9.9, -2.8), (10.0, -3.3), (10.1, -2.5),
    (10.2, -2.9), (10.3, -3.3), (10.4, -2.6), (10.5, -3.0), (10.6, -3.4), (10.7, -2.7), (10.8, -3.2),
    (10.9, -2.6), (11.0, -3.0), (11.1, -3.5), (11.2, -2.8), (11.3, -3.2), (11.5, -2.9), (11.6, -3.5),
    (11.8, -3.2), (12.0, -3.5), (12.2, -3.2), (9.5, -2.9), (10.0, -2.7), (10.4, -2.9), (9.1, -2.7),
    (10.7, -3.1), (9.8, -3.0), (10.2, -2.7)]

b_sparse = [
    (-18.67, 1.95), (-17.1, 5.06), (-15.75, 0.41), (-15.9, 5.3), (-15.2, 4.97), (-14.55, 5.26), (-15.8, 4.52),
    (-15.1, 4.23), (-13.2, 5.4), (-13.3, 5.03), (-11.97, 5.03), (-11.5, 5.36), (-10.6, 5.3), (-8.8, 5.28),
    (-7.45, 5.13), (-13.8, 3.6), (-14.7, 3.25), (-15.35, 2.08), (-16.7, 1.57), (-16.1, 1.32), (-14.9, 1.57),
    (-14.0, 2.69), (-13.3, 3.8), (-16.9, -2.69), (-16.0, -3.22), (-15.9, -3.7), (-15.5, -4.0), (-15.1, -2.39),
    (-14.45, -2.89), (-14.0, -2.79), (-13.9, -3.55), (-13.55, -2.71), (-13.2, -3.2), (-12.7, -4.16),
    (-12.2, -1.78), (-11.97, -2.64), (-11.5, -3.05), (-11.2, -4.18), (-11.1, -3.4), (-10.85, -1.17),
    (-10.6, -3.7), (-9.9, -2.95), (-9.7, -3.8), (-8.7, -4.26), (-8.1, -4.52), (-3.16, -5.84), (-2.9, -5.84),
    (24.26, 3.56), (24.9, 3.56), (19.86, 3.56), (20.3, 3.56), (19.5, 1.32), (19.6, 2.18), (18.2, 4.03),
    (13.1, 4.66), (13.8, 4.36), (14.8, 0.98), (13.7, 0.44), (12.6, 0.41), (17.3, -0.44), (16.1, -0.79),
    (19.7, -1.12), (24.0, -3.25), (23.0, -4.06), (23.2, -4.45), (20.8, -4.92), (18.0, -6.78), (15.2, -6.27),
    (7.67, -8.29), (6.43, -7.04), (5.03, -6.6), (3.5, -6.63), (10.16, -5.79), (13.8, -5.87), (16.5, -5.74),
    (18.5, -5.70), (20.7, -3.8), (12.8, 4.0), (13.5, 3.7), (14.1, 3.2), (14.7, 3.9), (15.2, 2.8), (15.8, 3.5),
    (16.4, 3.0), (17.0, 3.7), (13.3, 2.5), (14.4, 2.2), (15.5, 2.0), (16.6, 2.4), (17.6, 2.9), (18.3, 3.3),
    (12.0, 1.8), (13.0, 1.4), (14.0, 1.2), (12.5, 0.6), (11.3, 0.2), (10.0, -0.2), (11.7, -0.6), (13.2, -0.3),
    (16.9, 1.9), (15.0, 3.4), (16.0, 4.0), (4.5, -5.0), (5.8, -5.6), (6.9, -4.6), (8.2, -5.2), (9.0, -6.0),
    (10.9, -5.3), (12.0, -5.8), (13.4, -5.5), (15.6, -4.6), (16.8, -4.0), (17.5, -3.0), (17.2, -4.9),
    (16.2, -2.2), (18.3, -2.6), (4.0, -5.7), (5.2, -6.1), (3.0, -6.0), (1.9, -6.5), (6.0, -4.2), (15.4, -1.8),
    (-12.5, 4.6), (-11.8, 4.2), (-10.3, 4.8), (-9.0, 4.2), (-7.8, 4.8), (-6.2, 4.2), (-5.6, 4.9), (-4.5, 5.0),
    (-3.1, 4.9), (-1.8, 5.1), (-0.3, 4.9), (1.1, 5.0), (2.5, 4.8), (3.9, 4.9), (5.6, 4.7), (7.3, 4.6),
    (9.0, 4.7), (10.6, 4.3), (11.8, 4.4), (13.4, 4.2), (-14.2, 1.0), (-13.6, 2.4), (-13.9, 3.0), (-14.5, 0.3),
    (-13.1, -0.6), (-12.0, -0.4), (-10.4, -2.1), (-9.6, -1.2), (-8.3, -1.4), (14.6, 1.6), (15.9, 1.1),
    (17.8, 2.1), (16.4, -0.4), (14.3, -1.3), (17.7, -1.6), (-6.1, -5.2), (-4.8, -5.6), (3.9, -4.7), (5.5, -4.8),
    (6.6, -5.3)]

density_levels = [0.002, 0.004, 0.006, 0.008, 0.010, 0.012, 0.014]
cbar_ticks = [0.005, 0.010]

RED = '#B0403A'
ORANGE = '#F1C232'
GRAY = '#BDBDBD'
BLUE = '#5A80C6'

fig = plt.figure(figsize=(10.11, 11.99), dpi=100)

# ---------------- panel a ----------------
ax = fig.add_axes([77 / 1011, 1 - 516 / 1199, 682 / 1011, 492 / 1199])
ax.set_xlim(0, 30)
ax.set_ylim(20, 0)

ax.axvline(w_cut, color='#333333', ls=(0, (1, 3)), lw=1.3, zorder=1)
ax.axhline(c_cut, color='#333333', ls=(0, (1, 3)), lw=1.3, zorder=1)


def pts(lst):
    arr = np.array(lst)
    return arr[:, 0], arr[:, 1]


ms, mew = 8.3, 2.0
x, y = pts(a_gray)
ax.plot(x, y, 'o', ms=ms, mfc='none', mec=GRAY, mew=mew, zorder=2)
x, y = pts(a_gray_larger)
ax.plot(x, y, 'o', ms=ms, mfc=ORANGE, mec=GRAY, mew=mew, zorder=3)
x, y = pts(a_south)
ax.plot(x, y, 'o', ms=ms, mfc='none', mec=BLUE, mew=mew, zorder=3)
x, y = pts(a_south_larger)
ax.plot(x, y, 'o', ms=ms, mfc=ORANGE, mec=BLUE, mew=mew, zorder=4)
x, y = pts(a_north)
ax.plot(x, y, 'o', ms=ms, mfc='white', mec=RED, mew=mew, zorder=4)
x, y = pts(a_north_larger)
ax.plot(x, y, 'o', ms=ms, mfc=ORANGE, mec=RED, mew=mew, zorder=5)
x, y = pts(a_outliers)
ax.plot(x, y, '*', ms=4, color='black', zorder=6)

wl = np.array([0, 30])
ax.plot(wl, fit_intercept + fit_slope * wl, color='black', lw=1.3, zorder=5)

ax.text(9.95, 0.98, '$c$ outliers', ha='center', va='center', fontsize=20)
ax.text(25.0, 3.15, '$r^2$ = 0.448', ha='center', va='center', fontsize=19)
ax.text(25.0, 4.3, '$p$ = 2.2 x 10$^{-6}$', ha='center', va='center', fontsize=19)
ax.text(29.3, 0.8, 'a', ha='right', va='center', fontsize=17, fontweight='bold')

ax.set_xticks([0, 10, 20, 30])
ax.set_yticks([0, 10, 20])
ax.tick_params(axis='both', labelsize=22, length=5, width=1, color='#333333')
ax.tick_params(axis='x', pad=10)
ax.tick_params(axis='y', pad=15)
for lab in ax.get_yticklabels():
    lab.set_ha('center')
ax.set_xlabel('$w$', fontsize=24)
ax.xaxis.set_label_coords(0.331, -0.108)
ax.set_ylabel('$c$', fontsize=25, rotation=0, ha='center', va='center')
ax.yaxis.set_label_coords(-0.078, 0.5)
for s in ['top', 'right']:
    ax.spines[s].set_color('#BBBBBB')
for s in ['left', 'bottom']:
    ax.spines[s].set_color('#444444')


# legend (manual placement)
def legend_item(ypx, mfc, mec, label):
    fig.add_artist(Line2D([789 / 1011], [1 - ypx / 1199], marker='o', ms=7.5, mfc=mfc, mec=mec, mew=1.7,
                          ls='', transform=fig.transFigure))
    fig.text(825 / 1011, 1 - ypx / 1199, label, ha='left', va='center', fontsize=24)


fig.text(772 / 1011, 1 - 117 / 1199, '$w$ significance', ha='left', va='center', fontsize=23.5)
legend_item(178, 'white', 'black', 'non\u2013sig.')
legend_item(215, ORANGE, 'black', 'sig. larger')
fig.text(772 / 1011, 1 - 283 / 1199, '$c$ significance', ha='left', va='center', fontsize=23.5)
legend_item(343, 'white', RED, 'sig. to North')
legend_item(382, 'white', GRAY, 'non\u2013sig.')
legend_item(421, 'white', BLUE, 'sig. to South')

# ---------------- panel b ----------------
bx = fig.add_axes([82 / 1011, 1 - 1120 / 1199, 677 / 1011, 492 / 1199])
bx.set_xlim(-20, 25.9)
bx.set_ylim(-9, 6)

allb = np.array(b_left_core + b_top + b_middle + b_lower_left + b_right + b_sparse)
bx.axhline(0, color='#AAAAAA', lw=1.2, zorder=0)
bx.plot(allb[:, 0], allb[:, 1], 'o', ms=4.3, color='#BBBBBB', mec='none', zorder=1)
bx.plot([0, 0], [6, 3.35], color='#333333', lw=1.2, zorder=2)
bx.plot([0, 0], [3.35, -1.6], color='#333333', lw=1.2, ls=(0, (4, 3)), zorder=2)
bx.plot([0, 0], [-1.6, -9], color='#333333', lw=1.2, zorder=2)

# 2D gaussian kernel density of the points
gx = np.linspace(-20, 25.9, 260)
gy = np.linspace(-9, 6, 200)
bw_b, bw_a = 1.6, 0.62
kx = np.exp(-0.5 * ((gx[:, None] - allb[:, 0]) / bw_b) ** 2) / (np.sqrt(2 * np.pi) * bw_b)
ky = np.exp(-0.5 * ((gy[:, None] - allb[:, 1]) / bw_a) ** 2) / (np.sqrt(2 * np.pi) * bw_a)
dens = ky @ kx.T / len(allb)
norm = Normalize(min(density_levels), max(density_levels))
bx.contour(gx, gy, dens, levels=density_levels, cmap='viridis', norm=norm, linewidths=1.3, zorder=3)

bx.text(24.7, 5.12, 'b', ha='right', va='center', fontsize=17, fontweight='bold')
bx.set_xticks([-20, -10, 0, 10, 20])
bx.set_yticks([-9, -6, -3, 0, 3, 6])
bx.set_xticklabels(['\u221220', '\u221210', '0', '10', '20'])
bx.set_yticklabels(['\u22129', '\u22126', '\u22123', '0', '3', '6'])
bx.tick_params(axis='both', labelsize=22, length=4, width=1, color='#333333')
bx.tick_params(axis='x', pad=10)
bx.tick_params(axis='y', pad=17)
for lab in bx.get_yticklabels():
    lab.set_ha('center')
bx.set_xlabel('\u03b2', fontsize=24, family=['Liberation Serif', 'DejaVu Serif'])
bx.xaxis.set_label_coords(0.434, -0.1)
bx.set_ylabel('\u03b1', fontsize=25, rotation=0, ha='center', va='center',
              family=['Liberation Serif', 'DejaVu Serif'])
bx.yaxis.set_label_coords(-0.055, 0.51)
for s in ['top', 'right']:
    bx.spines[s].set_color('#BBBBBB')
for s in ['left', 'bottom']:
    bx.spines[s].set_color('#444444')

# colorbar
cax = fig.add_axes([783 / 1011, 1 - 1015 / 1199, 20 / 1011, 198 / 1199])
cb = fig.colorbar(cm.ScalarMappable(norm=norm, cmap='viridis'), cax=cax, ticks=cbar_ticks)
cb.outline.set_visible(False)
cb.ax.set_yticklabels(['0.005', '0.010'])
cb.ax.tick_params(labelsize=24, color='white', direction='in', length=4, pad=14)
fig.text(783 / 1011, 1 - 763 / 1199, 'Kernel\ndensity', ha='left', va='center', fontsize=24,
         linespacing=1.15)

# right-edge border line
fig.add_artist(Line2D([1006 / 1011, 1006 / 1011], [0, 1], color='black', lw=1.2, transform=fig.transFigure))

fig.savefig('out.png', dpi=100)
